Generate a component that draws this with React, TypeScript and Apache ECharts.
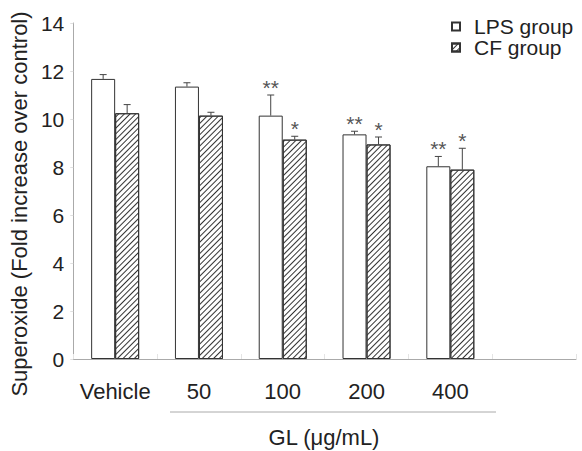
import React, { useEffect, useRef } from "react";
import * as echarts from "echarts";

const categories = ["Vehicle", "50", "100", "200", "400", ""];
const lpsMeans = [11.67, 11.35, 10.14, 9.36, 8.03];
const lpsErrTop = [11.85, 11.51, 11.0, 9.49, 8.44];
const lpsSig = ["", "", "**", "**", "**"];
const cfMeans = [10.24, 10.14, 9.14, 8.94, 7.89];
const cfErrTop = [10.6, 10.28, 9.28, 9.25, 8.78];
const cfSig = ["", "", "*", "*", "*"];
const yTicks = { min: 0, max: 14, interval: 2 };

const FONT = "'Liberation Sans', Arial, Helvetica, sans-serif";
const FS = 22;

function errSeries(name: string, errTop: number[], means: number[], sig: string[], offset: number) {
  return {
    type: "custom",
    name,
    silent: true,
    z: 5,
    data: means.map((m, i) => [i, m, errTop[i], sig[i]]),
    encode: { x: 0, y: [1, 2] },
    renderItem: (params: any, api: any) => {
      const idx = api.value(0);
      const mean = api.value(1);
      const top = api.value(2);
      const s = sig[params.dataIndex];
      const p0 = api.coord([idx, mean]);
      const p1 = api.coord([idx, top]);
      const x = p0[0] + offset;
      const children: any[] = [
        { type: "line", shape: { x1: x, y1: p0[1], x2: x, y2: p1[1] }, style: { stroke: "#444", lineWidth: 1 } },
        { type: "line", shape: { x1: x - 3.5, y1: p1[1], x2: x + 3.5, y2: p1[1] }, style: { stroke: "#444", lineWidth: 1 } },
      ];
      if (s) {
        children.push({
          type: "text",
          style: {
            x,
            y: p1[1] - 8,
            text: s,
            fill: "#555",
            fontSize: 21,
            fontFamily: FONT,
            align: "center",
            verticalAlign: "middle",
          },
        });
      }
      return { type: "group", children };
    },
  };
}

export default function App() {
  const ref = useRef<HTMLDivElement>(null);
  useEffect(() => {
    if (!ref.current) return;
    const chart = echarts.init(ref.current, undefined, { renderer: "svg" });
    chart.setOption({
      animation: false,
      backgroundColor: "#fff",
      textStyle: { fontFamily: FONT },
      grid: { left: 72, right: 6, top: 23, bottom: 92, containLabel: false },
      legend: {
        data: ["LPS group", "CF group"],
        orient: "vertical",
        left: 451,
        top: 16,
        padding: 0,
        itemWidth: 8,
        itemHeight: 8,
        itemGap: 0,
        icon: "rect",
        textStyle: { fontSize: 21, lineHeight: 20, color: "#222", fontFamily: FONT, padding: [0, 0, 0, 9] },
      },
      xAxis: {
        type: "category",
        data: categories,
        axisLine: { lineStyle: { color: "#aaa", width: 1 } },
        axisTick: { show: true, inside: true, length: 5, lineStyle: { color: "#e4e4e4" } },
        axisLabel: { interval: 0, fontSize: FS, color: "#222", margin: 21, fontFamily: FONT },
        splitLine: { show: false },
      },
      yAxis: {
        type: "value",
        min: yTicks.min,
        max: yTicks.max,
        interval: yTicks.interval,
        name: "Superoxide (Fold increase over control)",
        nameLocation: "middle",
        nameRotate: 90,
        nameGap: 32,
        nameTextStyle: { fontSize: FS, color: "#222", fontFamily: FONT, padding: [0, 26, 0, 0] },
        axisLine: { show: true, lineStyle: { color: "#aaa", width: 1 } },
        axisTick: { show: true, length: 3, lineStyle: { color: "#e0e0e0" } },
        axisLabel: { fontSize: 21, color: "#222", margin: 9, fontFamily: FONT },
        splitLine: { show: false },
      },
      series: [
        {
          type: "bar",
          name: "LPS group",
          data: lpsMeans,
          barWidth: 24,
          barGap: "0%",
          itemStyle: { color: "#fff", borderColor: "#333", borderWidth: 1 },
        },
        {
          type: "bar",
          name: "CF group",
          data: cfMeans,
          barWidth: 24,
          barGap: "0%",
          itemStyle: {
            color: "#fff",
            borderColor: "#333",
            borderWidth: 1,
            decal: {
              symbol: "rect",
              symbolSize: 1,
              color: "#333",
              backgroundColor: "#fff",
              dashArrayX: [1, 0],
              dashArrayY: [1, 2.5],
              rotation: -Math.PI / 4,
            },
          },
        },
        errSeries("LPS err", lpsErrTop, lpsMeans, lpsSig, -12),
        errSeries("CF err", cfErrTop, cfMeans, cfSig, 12),
      ],
      graphic: [
        { type: "line", shape: { x1: 170, y1: 412, x2: 496, y2: 412 }, style: { stroke: "#aaa", lineWidth: 1 } },
        {
          type: "text",
          x: 324,
          y: 437,
          style: { text: "GL (μg/mL)", fontSize: FS, fill: "#222", fontFamily: FONT, align: "center", verticalAlign: "middle" },
        },
      ],
    });
    return () => chart.dispose();
  }, []);
  return <div ref={ref} style={{ width: 582, height: 451, position: "absolute", left: 0, top: 0 }} />;
}
